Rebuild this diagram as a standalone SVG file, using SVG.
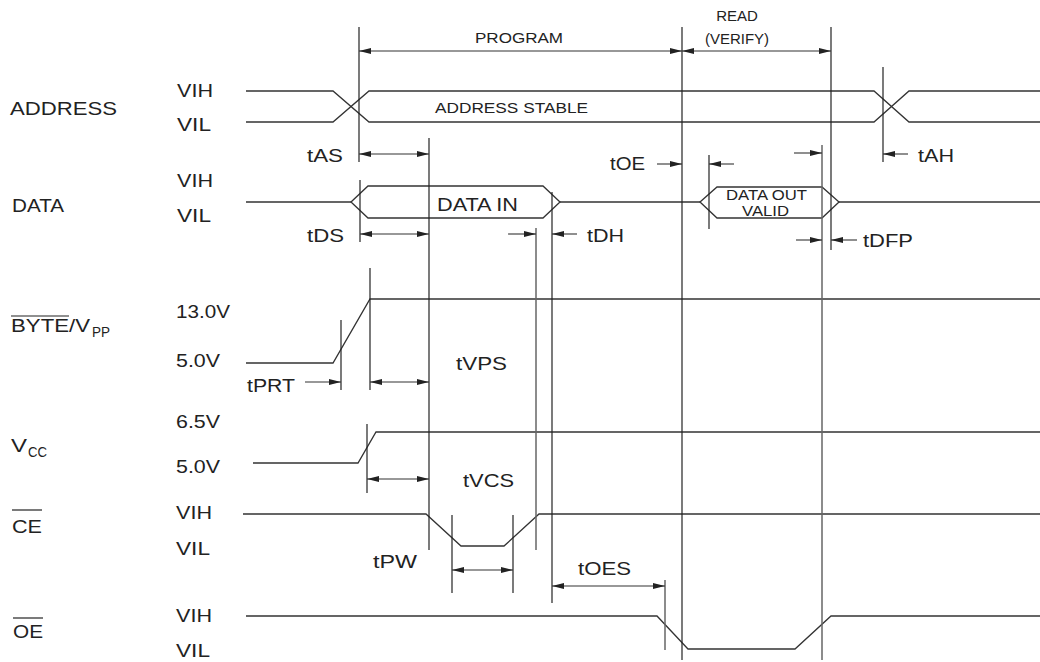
<svg xmlns="http://www.w3.org/2000/svg" width="1040" height="662" viewBox="0 0 1040 662">
<style>
text{font-family:"Liberation Sans",Arial,Helvetica,sans-serif;fill:#222;}
.lbl{font-size:18px;}
.sm{font-size:15px;}
.sig{fill:none;stroke:#333;stroke-width:1.3;}
.ln{fill:none;stroke:#222;stroke-width:1.2;}
.gr{fill:none;stroke:#666;stroke-width:1.5;}
.dim{fill:none;stroke:#333;stroke-width:1.1;}
.ov{stroke:#222;stroke-width:1.2;}
</style>
<defs>
<marker id="ah" viewBox="0 0 12 6" refX="12" refY="3" markerWidth="12" markerHeight="6" markerUnits="userSpaceOnUse" orient="auto-start-reverse">
<path d="M0,0 L12,3 L0,6 Z" fill="#222"/>
</marker>
</defs>
<rect width="1040" height="662" fill="#fff"/>

<g id="sig-address">
<text class="lbl" x="10" y="115" textLength="107" lengthAdjust="spacingAndGlyphs">ADDRESS</text>
<text class="lbl" x="177" y="97" textLength="36" lengthAdjust="spacingAndGlyphs">VIH</text>
<text class="lbl" x="177" y="131" textLength="34" lengthAdjust="spacingAndGlyphs">VIL</text>
<path class="sig" d="M246,91 H333 L369,122 H874 L909,91 H1040 M246,122 H333 L369,91 H874 L909,122 H1040"/>
<text class="sm" x="435" y="113" textLength="153" lengthAdjust="spacingAndGlyphs">ADDRESS STABLE</text>
</g>

<g id="sig-data">
<text class="lbl" x="12" y="212" textLength="52" lengthAdjust="spacingAndGlyphs">DATA</text>
<text class="lbl" x="177" y="187" textLength="36" lengthAdjust="spacingAndGlyphs">VIH</text>
<text class="lbl" x="177" y="222" textLength="34" lengthAdjust="spacingAndGlyphs">VIL</text>
<path class="sig" d="M246,202 H351 M560,202 H700 M839,202 H1040"/>
<path class="sig" d="M351,202 L368,186 H543 L560,202 L543,218 H368 Z"/>
<text class="lbl" x="437" y="211" textLength="81" lengthAdjust="spacingAndGlyphs">DATA IN</text>
<path class="sig" d="M700,202 L717,187 H822 L839,202 L822,218 H717 Z"/>
<text class="sm" x="726" y="200" textLength="81" lengthAdjust="spacingAndGlyphs">DATA OUT</text>
<text class="sm" x="742" y="216" textLength="47" lengthAdjust="spacingAndGlyphs">VALID</text>
</g>

<g id="sig-byte">
<text class="lbl" x="11" y="332" textLength="79" lengthAdjust="spacingAndGlyphs">BYTE/V</text>
<text class="sm" x="92" y="337" textLength="18" lengthAdjust="spacingAndGlyphs">PP</text>
<line class="ov" x1="11" y1="316" x2="69" y2="316"/>
<text class="lbl" x="176" y="318" textLength="54" lengthAdjust="spacingAndGlyphs">13.0V</text>
<text class="lbl" x="176" y="367" textLength="44" lengthAdjust="spacingAndGlyphs">5.0V</text>
<path class="sig" d="M246,363 H333 L370,299 H1040"/>
</g>

<g id="sig-vcc">
<text class="lbl" x="11" y="452" textLength="16" lengthAdjust="spacingAndGlyphs">V</text>
<text class="sm" x="28" y="457" textLength="19" lengthAdjust="spacingAndGlyphs">CC</text>
<text class="lbl" x="176" y="428" textLength="44" lengthAdjust="spacingAndGlyphs">6.5V</text>
<text class="lbl" x="176" y="473" textLength="44" lengthAdjust="spacingAndGlyphs">5.0V</text>
<path class="sig" d="M253,463 H358 L376,432 H1040"/>
</g>

<g id="sig-ce">
<text class="lbl" x="12" y="533" textLength="30" lengthAdjust="spacingAndGlyphs">CE</text>
<line class="ov" x1="12" y1="510" x2="42" y2="510"/>
<text class="lbl" x="176" y="519" textLength="36" lengthAdjust="spacingAndGlyphs">VIH</text>
<text class="lbl" x="176" y="555" textLength="34" lengthAdjust="spacingAndGlyphs">VIL</text>
<path class="sig" d="M243,514 H426 L461,546 H504 L539,514 H1040"/>
</g>

<g id="sig-oe">
<text class="lbl" x="13" y="638" textLength="30" lengthAdjust="spacingAndGlyphs">OE</text>
<line class="ov" x1="13" y1="618" x2="43" y2="618"/>
<text class="lbl" x="176" y="622" textLength="36" lengthAdjust="spacingAndGlyphs">VIH</text>
<text class="lbl" x="176" y="657" textLength="34" lengthAdjust="spacingAndGlyphs">VIL</text>
<path class="sig" d="M246,616 H657 L688,649 H795 L831,616 H1040"/>
</g>

<g id="connectors">
<!-- reference lines -->
<line class="ln" x1="359" y1="27" x2="359" y2="162"/>
<line class="ln" x1="360" y1="180" x2="360" y2="242"/>
<line class="ln" x1="682" y1="27" x2="682" y2="660"/>
<line class="ln" x1="831" y1="27" x2="831" y2="250"/>
<line class="ln" x1="429" y1="138" x2="429" y2="550"/>
<line class="gr" x1="536" y1="228" x2="536" y2="550"/>
<line class="ln" x1="552" y1="192" x2="552" y2="603"/>
<line class="gr" x1="822" y1="145" x2="822" y2="660"/>
<line class="ln" x1="883" y1="67" x2="883" y2="162"/>
<line class="ln" x1="709" y1="155" x2="709" y2="229"/>
<line class="ln" x1="341" y1="320" x2="341" y2="390"/>
<line class="ln" x1="370" y1="268" x2="370" y2="390"/>
<line class="ln" x1="367" y1="424" x2="367" y2="493"/>
<line class="ln" x1="452" y1="515" x2="452" y2="593"/>
<line class="ln" x1="513" y1="515" x2="513" y2="593"/>
<line class="gr" x1="665" y1="580" x2="665" y2="650"/>

<!-- dimension arrows -->
<line class="dim" x1="359" y1="51" x2="682" y2="51" marker-start="url(#ah)" marker-end="url(#ah)"/>
<text class="sm" x="475" y="43" textLength="88" lengthAdjust="spacingAndGlyphs">PROGRAM</text>
<line class="dim" x1="682" y1="51" x2="831" y2="51" marker-start="url(#ah)" marker-end="url(#ah)"/>
<text class="sm" x="737" y="21" text-anchor="middle">READ</text>
<text class="sm" x="737" y="44" text-anchor="middle">(VERIFY)</text>

<line class="dim" x1="359" y1="154" x2="429" y2="154" marker-start="url(#ah)" marker-end="url(#ah)"/>
<text class="lbl" x="307" y="162" textLength="36" lengthAdjust="spacingAndGlyphs">tAS</text>
<line class="dim" x1="360" y1="234" x2="429" y2="234" marker-start="url(#ah)" marker-end="url(#ah)"/>
<text class="lbl" x="307" y="242" textLength="37" lengthAdjust="spacingAndGlyphs">tDS</text>

<line class="dim" x1="508" y1="234" x2="536" y2="234" marker-end="url(#ah)"/>
<line class="dim" x1="577" y1="234" x2="552" y2="234" marker-end="url(#ah)"/>
<text class="lbl" x="587" y="242" textLength="37" lengthAdjust="spacingAndGlyphs">tDH</text>

<line class="dim" x1="657" y1="164" x2="682" y2="164" marker-end="url(#ah)"/>
<text class="lbl" x="610" y="170" textLength="35" lengthAdjust="spacingAndGlyphs">tOE</text>
<line class="dim" x1="734" y1="164" x2="709" y2="164" marker-end="url(#ah)"/>
<line class="dim" x1="794" y1="153" x2="822" y2="153" marker-end="url(#ah)"/>

<line class="dim" x1="908" y1="154" x2="883" y2="154" marker-end="url(#ah)"/>
<text class="lbl" x="918" y="162" textLength="36" lengthAdjust="spacingAndGlyphs">tAH</text>

<line class="dim" x1="796" y1="240" x2="822" y2="240" marker-end="url(#ah)"/>
<line class="dim" x1="857" y1="240" x2="831" y2="240" marker-end="url(#ah)"/>
<text class="lbl" x="863" y="247" textLength="50" lengthAdjust="spacingAndGlyphs">tDFP</text>

<line class="dim" x1="305" y1="382" x2="341" y2="382" marker-end="url(#ah)"/>
<text class="lbl" x="247" y="392" textLength="48" lengthAdjust="spacingAndGlyphs">tPRT</text>
<line class="dim" x1="370" y1="382" x2="429" y2="382" marker-start="url(#ah)" marker-end="url(#ah)"/>
<text class="lbl" x="456" y="370" textLength="51" lengthAdjust="spacingAndGlyphs">tVPS</text>

<line class="dim" x1="367" y1="479" x2="429" y2="479" marker-start="url(#ah)" marker-end="url(#ah)"/>
<text class="lbl" x="463" y="487" textLength="51" lengthAdjust="spacingAndGlyphs">tVCS</text>

<line class="dim" x1="452" y1="570" x2="513" y2="570" marker-start="url(#ah)" marker-end="url(#ah)"/>
<text class="lbl" x="373" y="568" textLength="44" lengthAdjust="spacingAndGlyphs">tPW</text>

<line class="dim" x1="552" y1="586" x2="665" y2="586" marker-start="url(#ah)" marker-end="url(#ah)"/>
<text class="lbl" x="578" y="575" textLength="53" lengthAdjust="spacingAndGlyphs">tOES</text>
</g>
</svg>
